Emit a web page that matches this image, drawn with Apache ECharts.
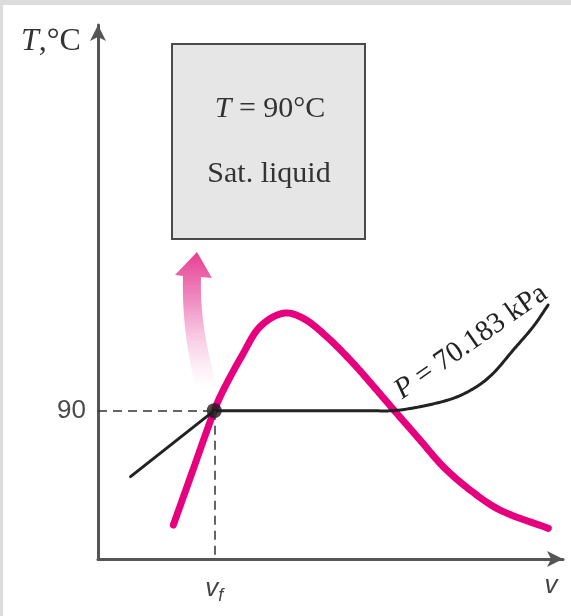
<!DOCTYPE html>
<html lang="en">
<head>
    <meta charset="UTF-8">
    <title>T-v diagram, saturated liquid</title>
    <script src="https://cdn.jsdelivr.net/npm/echarts@6/dist/echarts.min.js"></script>
    <style type="text/css">
        *{
            margin: 0px;
            padding: 0px;
        }
        body{
            background-color: #dcdcdc;
        }
        #chart{
            position: absolute;
            left: 3px;
            top: 5px;
            width: 568px;
            height: 611px;
            background-color: #fff;
        }
    </style>
</head>
<body>
<div id="chart"></div>

<script type="text/javascript">
    // saturation dome (specific volume, temperature) - arbitrary v units
    var domeV = [16.2, 19.9, 25.0, 26.95, 31.25, 34.84, 39.85, 44.15, 49.18, 54.9, 59.94, 64.24, 69.25, 74.26, 80.0, 86.45, 96.84];
    var domeT = [20.6, 49.9, 90, 102.5, 124.8, 140.9, 149.1, 146.0, 134.9, 118.7, 102.5, 88.4, 72.2, 56.0, 41.9, 29.7, 18.6];

    // constant pressure line, compressed liquid part
    var liqV = [7, 25];
    var liqT = [50, 90];

    // constant pressure line, mixture + superheated part
    var isoV = [25, 58, 63.4, 69.25, 76.4, 81.4, 85.0, 89.3, 93.6, 96.8];
    var isoT = [90, 90, 90, 92.4, 97.5, 104.5, 112.7, 126.8, 141.0, 154.1];

    // the state point
    var stateV = [25];
    var stateT = [90];

    var yTicks = [90];
    var xTicks = [25];

    var vMax = 100;
    var tMax = 324;

    function pairs(xs, ys){
        var out = [];
        for (var i = 0; i < xs.length; i++) {
            out.push([xs[i], ys[i]]);
        }
        return out;
    }

    function cubic(p0, p1, p2, p3, t){
        var u = 1 - t;
        return [
            u*u*u*p0[0] + 3*u*u*t*p1[0] + 3*u*t*t*p2[0] + t*t*t*p3[0],
            u*u*u*p0[1] + 3*u*u*t*p1[1] + 3*u*t*t*p2[1] + t*t*t*p3[1]
        ];
    }

    // smooth stroke through pixel points: tangent = next - prev, handles = 1/3 of each segment
    function smoothPts(p, seg){
        var n = p.length, tan = [];
        for (var i = 0; i < n; i++) {
            var a = p[Math.max(i - 1, 0)], b = p[Math.min(i + 1, n - 1)];
            var dx = b[0] - a[0], dy = b[1] - a[1], l = Math.sqrt(dx * dx + dy * dy) || 1;
            tan.push([dx / l, dy / l]);
        }
        var out = [p[0]];
        for (var j = 0; j < n - 1; j++) {
            var sx = p[j + 1][0] - p[j][0], sy = p[j + 1][1] - p[j][1];
            var h = Math.sqrt(sx * sx + sy * sy) / 3;
            var c1 = [p[j][0] + tan[j][0] * h, p[j][1] + tan[j][1] * h];
            var c2 = [p[j + 1][0] - tan[j + 1][0] * h, p[j + 1][1] - tan[j + 1][1] * h];
            for (var s = 1; s <= seg; s++) {
                out.push(cubic(p[j], c1, c2, p[j + 1], s / seg));
            }
        }
        return out;
    }

    function curveSeries(name, xs, ys, color, width, z){
        return {
            name: name,
            type: 'custom',
            data: [[xs[0], ys[0]]],
            encode: {x: 0, y: 1},
            z: z,
            renderItem: function (params, api) {
                var pts = [];
                for (var i = 0; i < xs.length; i++) {
                    pts.push(api.coord([xs[i], ys[i]]));
                }
                return {
                    type: 'polyline',
                    shape: {points: smoothPts(pts, 14)},
                    style: {stroke: color, lineWidth: width, fill: null, lineCap: 'round', lineJoin: 'round'}
                };
            }
        };
    }

    // curved pink arrow (decoration), sampled from two beziers
    var arrowPts = [[180, 271], [172, 270], [194, 247], [209, 273], [198, 272]];
    for (var s = 1; s <= 16; s++) arrowPts.push(cubic([198, 272], [197, 305], [202, 340], [214, 380], s / 16));
    for (var s2 = 0; s2 <= 16; s2++) arrowPts.push(cubic([193, 383], [183, 345], [179, 305], [180, 271], s2 / 16));

    var myChart = echarts.init(document.getElementById('chart'));

    var serif = 'Liberation Serif';
    var sans = 'Liberation Sans';

    var option = {
        animation: false,
        grid: {
            left: 95,
            right: 8,
            top: 20,
            bottom: 57
        },
        xAxis: {
            type: 'value',
            min: 0,
            max: vMax,
            splitLine: {show: false},
            axisTick: {show: false},
            axisLine: {
                lineStyle: {color: '#555', width: 3},
                symbol: ['none', 'arrow'],
                symbolSize: [12, 16]
            },
            axisLabel: {
                customValues: xTicks,
                margin: 14,
                formatter: function () {
                    return '{v|v}{f|f}';
                },
                rich: {
                    v: {fontFamily: sans, fontSize: 26, color: '#444', fontStyle: 'italic'},
                    f: {fontFamily: sans, fontSize: 18, color: '#444', fontStyle: 'italic', padding: [14, 0, 0, 0]}
                }
            }
        },
        yAxis: {
            type: 'value',
            min: 0,
            max: tMax,
            splitLine: {show: false},
            axisTick: {show: false},
            axisLine: {
                lineStyle: {color: '#555', width: 3},
                symbol: ['none', 'arrow'],
                symbolSize: [12, 16]
            },
            axisLabel: {
                customValues: yTicks,
                margin: 12,
                fontFamily: sans,
                fontSize: 26,
                color: '#4a4a4a'
            }
        },
        graphic: [
            {
                type: 'rect',
                shape: {x: 169, y: 39, width: 193, height: 195},
                style: {fill: '#e6e6e6', stroke: '#4a4a4a', lineWidth: 2}
            },
            {
                type: 'text',
                x: 267, y: 104,
                style: {
                    text: '{i|T} = 90°C',
                    align: 'center', verticalAlign: 'middle',
                    fontFamily: serif, fontSize: 30, fill: '#333',
                    rich: {i: {fontFamily: serif, fontSize: 30, fontStyle: 'italic', fill: '#333'}}
                }
            },
            {
                type: 'text',
                x: 266, y: 169,
                style: {
                    text: 'Sat. liquid',
                    align: 'center', verticalAlign: 'middle',
                    fontFamily: serif, fontSize: 30, fill: '#333'
                }
            },
            {
                type: 'text',
                x: 18, y: 21,
                style: {
                    text: '{i|T},°C',
                    fontFamily: serif, fontSize: 32, fill: '#333',
                    rich: {i: {fontFamily: serif, fontSize: 32, fontStyle: 'italic', fill: '#333'}}
                }
            },
            {
                type: 'text',
                x: 468, y: 337,
                rotation: 35 * Math.PI / 180,
                style: {
                    text: '{i|P} = 70.183 kPa',
                    align: 'center', verticalAlign: 'middle',
                    fontFamily: serif, fontSize: 29, fill: '#222',
                    rich: {i: {fontFamily: serif, fontSize: 29, fontStyle: 'italic', fill: '#222'}}
                }
            },
            {
                type: 'text',
                x: 548, y: 568,
                style: {
                    text: 'v',
                    align: 'center',
                    fontFamily: sans, fontSize: 26, fontStyle: 'italic', fill: '#444'
                }
            },
            {
                // faded pink arrow pointing from the state to the box
                type: 'polygon',
                shape: {points: arrowPts},
                style: {
                    fill: {
                        type: 'linear', x: 0, y: 0, x2: 0, y2: 1,
                        colorStops: [
                            {offset: 0, color: 'rgba(230,50,140,0.95)'},
                            {offset: 0.35, color: 'rgba(232,90,165,0.7)'},
                            {offset: 1, color: 'rgba(245,170,210,0)'}
                        ]
                    }
                }
            }
        ],
        series: [
            curveSeries('dome', domeV, domeT, '#e6007e', 7, 2),
            {
                name: 'liquid',
                type: 'line',
                data: pairs(liqV, liqT),
                symbol: 'none',
                lineStyle: {color: '#222', width: 3, cap: 'round'},
                z: 3
            },
            curveSeries('isobar', isoV, isoT, '#222', 3, 3),
            {
                name: 'state',
                type: 'scatter',
                data: pairs(stateV, stateT),
                symbolSize: 15,
                itemStyle: {color: '#1a1a1a'},
                z: 4,
                markLine: {
                    silent: true,
                    symbol: 'none',
                    label: {show: false},
                    lineStyle: {color: '#333', width: 1.5, type: [9, 6]},
                    data: [
                        [{coord: [0, stateT[0]]}, {coord: [stateV[0], stateT[0]]}],
                        [{coord: [stateV[0], stateT[0]]}, {coord: [stateV[0], 0]}]
                    ]
                }
            }
        ]
    };

    myChart.setOption(option);
</script>
</body>
</html>
